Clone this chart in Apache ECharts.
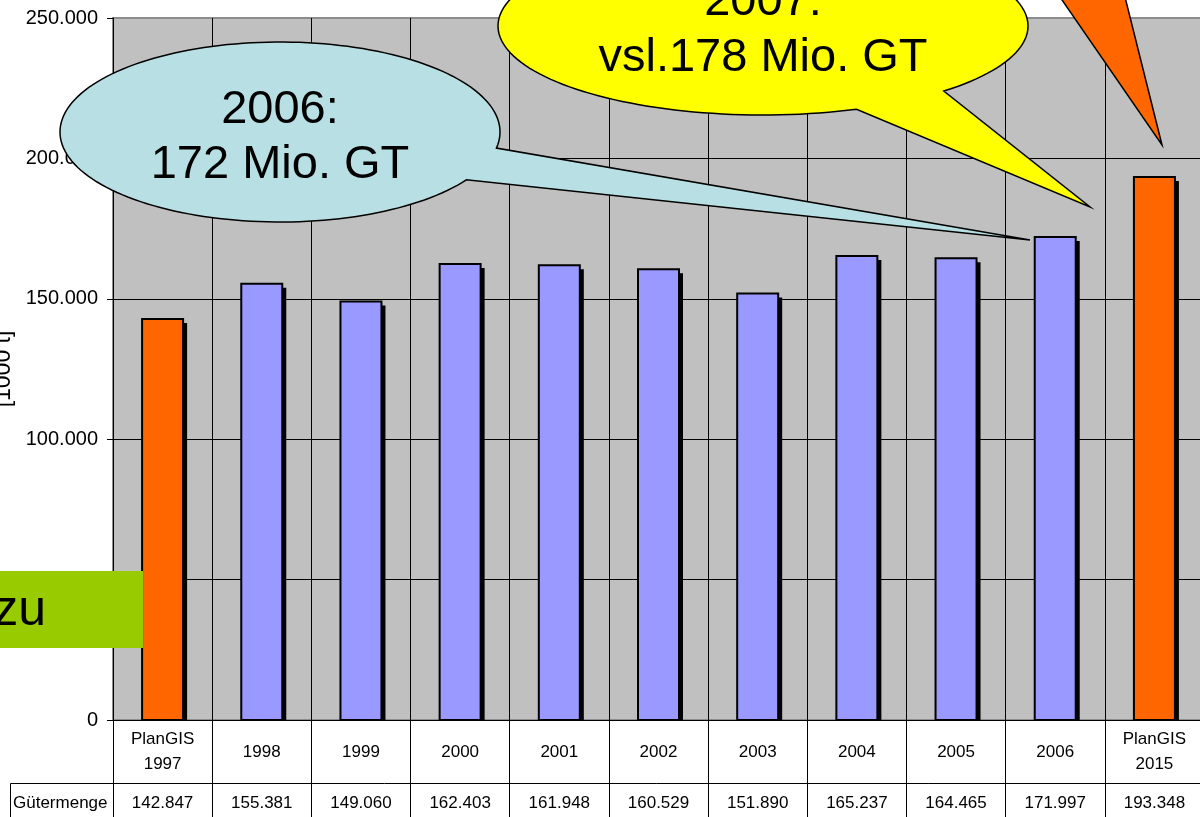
<!DOCTYPE html>
<html>
<head>
<meta charset="utf-8">
<script src="https://cdn.jsdelivr.net/npm/echarts@6/dist/echarts.min.js"></script>
<style>
html, body { margin: 0; padding: 0; background: #fff; }
#chart { width: 1200px; height: 817px; }
</style>
</head>
<body>
<div id="chart"></div>
<script>
const categories = ['PlanGIS\n1997', '1998', '1999', '2000', '2001', '2002', '2003', '2004', '2005', '2006', 'PlanGIS\n2015']
const values = [142847, 155381, 149060, 162403, 161948, 160529, 151890, 165237, 164465, 171997, 193348]
const yMax = 250000
const yStep = 50000
const rowLabel = 'Gütermenge'
const axisName = '[1000 t]'
const note2006 = ['2006:', '172 Mio. GT']
const note2007 = ['2007:', 'vsl.178 Mio. GT']
const sideNote = 'zu'

const FONT = '"Liberation Sans", Arial, sans-serif'

// 142847 -> 142.847
function fmt (v) {
  return String(v).replace(/\B(?=(\d{3})+(?!\d))/g, '.')
}

// speech bubble outline: ellipse arc from t1 to t2 (long way) then the pointer tip
function bubble (cx, cy, rx, ry, t1, t2, tip) {
  const pts = []
  const n = 160
  for (let i = 0; i <= n; i++) {
    const t = t1 + (t2 - t1) * i / n
    pts.push([cx + rx * Math.cos(t), cy + ry * Math.sin(t)])
  }
  pts.push(tip)
  return pts
}

const chart = echarts.init(document.getElementById('chart'))

chart.setOption({
  animation: false,
  grid: {
    left: 113,
    right: -4,
    top: 18,
    bottom: 97,
    show: true,
    backgroundColor: '#C0C0C0',
    borderColor: '#8c8c8c',
    borderWidth: 2,
    outerBoundsMode: 'none'
  },
  xAxis: [
    {
      type: 'category',
      data: categories,
      position: 'bottom',
      axisLine: { lineStyle: { color: '#000', width: 1 } },
      axisTick: { show: true, interval: 0, length: 63, lineStyle: { color: '#000' } },
      axisLabel: {
        interval: 0,
        margin: 32,
        verticalAlign: 'middle',
        color: '#000',
        fontFamily: FONT,
        fontSize: 17,
        lineHeight: 25
      },
      splitLine: { show: true, interval: 0, lineStyle: { color: '#000', width: 1 } }
    },
    {
      type: 'category',
      data: values.map(fmt),
      position: 'bottom',
      offset: 63,
      axisLine: { lineStyle: { color: '#000', width: 1 } },
      axisTick: { show: true, interval: 0, length: 40, lineStyle: { color: '#000' } },
      axisLabel: {
        interval: 0,
        margin: 20,
        verticalAlign: 'middle',
        color: '#000',
        fontFamily: FONT,
        fontSize: 17
      },
      splitLine: { show: false }
    }
  ],
  yAxis: {
    type: 'value',
    min: 0,
    max: yMax,
    interval: yStep,
    name: axisName,
    nameLocation: 'middle',
    nameGap: 80,
    nameTextStyle: { color: '#000', fontFamily: FONT, fontSize: 23 },
    axisLine: { show: true, lineStyle: { color: '#000', width: 1 } },
    axisTick: { show: true, length: 6, lineStyle: { color: '#000' } },
    axisLabel: { margin: 15, color: '#000', fontFamily: FONT, fontSize: 20, formatter: fmt },
    splitLine: {
      show: true,
      lineStyle: { color: ['#000', '#000', '#000', '#000', '#000', '#8c8c8c'], width: 1 }
    }
  },
  series: [
    {
      // bars with a hard black drop shadow
      type: 'custom',
      xAxisIndex: 0,
      data: values.map((v, i) => [i, v]),
      encode: { x: 0, y: 1 },
      renderItem: (params, api) => {
        const top = api.coord([api.value(0), api.value(1)])
        const base = api.coord([api.value(0), 0])
        const w = 41
        const x = top[0] - w / 2
        const h = base[1] - top[1]
        const plan = categories[params.dataIndex].indexOf('PlanGIS') === 0
        return {
          type: 'group',
          children: [
            {
              type: 'rect',
              shape: { x: x + 4, y: top[1] + 4, width: w, height: h - 4 },
              style: { fill: '#000' }
            },
            {
              type: 'rect',
              shape: { x: x, y: top[1], width: w, height: h },
              style: { fill: plan ? '#FF6600' : '#9999FF', stroke: '#000', lineWidth: 2 }
            }
          ]
        }
      }
    }
  ],
  graphic: [
    // Gütermenge cell
    {
      type: 'polyline',
      shape: { points: [[10.5, 817], [10.5, 783.5], [113, 783.5]] },
      style: { stroke: '#000', lineWidth: 1, fill: null },
      z: 50
    },
    {
      type: 'text',
      style: { text: rowLabel, x: 13, y: 803, fill: '#000', font: '17px ' + FONT, align: 'left', verticalAlign: 'middle' },
      z: 50
    },
    // green box on the left
    {
      type: 'rect',
      shape: { x: 0, y: 571, width: 143, height: 77 },
      style: { fill: '#99CC00' },
      z: 100
    },
    {
      type: 'text',
      style: { text: sideNote, x: 46, y: 611, fill: '#000', font: '50px ' + FONT, align: 'right', verticalAlign: 'middle' },
      z: 101
    },
    // orange arrow top right
    {
      type: 'polygon',
      shape: { points: [[1060, -3], [1125, -3], [1162, 145]] },
      style: { fill: '#FF6600', stroke: '#000', lineWidth: 1.5 },
      z: 100
    },
    // 2006 callout
    {
      type: 'polygon',
      shape: { points: bubble(280, 132, 220, 90, 0.18, 0.56 - 2 * Math.PI, [1030, 240]) },
      style: { fill: '#B8E0E4', stroke: '#000', lineWidth: 1.5 },
      z: 100
    },
    {
      type: 'text',
      style: { text: note2006[0], x: 280, y: 110, fill: '#000', font: '47px ' + FONT, align: 'center', verticalAlign: 'middle' },
      z: 101
    },
    {
      type: 'text',
      style: { text: note2006[1], x: 280, y: 165, fill: '#000', font: '47px ' + FONT, align: 'center', verticalAlign: 'middle' },
      z: 101
    },
    // 2007 callout
    {
      type: 'polygon',
      shape: { points: bubble(763, 26, 265, 89, 0.82, 1.21 - 2 * Math.PI, [1090, 207]) },
      style: { fill: '#FFFF00', stroke: '#000', lineWidth: 1.5 },
      z: 100
    },
    {
      type: 'text',
      style: { text: note2007[0], x: 763, y: 2, fill: '#000', font: '47px ' + FONT, align: 'center', verticalAlign: 'middle' },
      z: 101
    },
    {
      type: 'text',
      style: { text: note2007[1], x: 763, y: 58, fill: '#000', font: '47px ' + FONT, align: 'center', verticalAlign: 'middle' },
      z: 101
    }
  ]
})
</script>
</body>
</html>
